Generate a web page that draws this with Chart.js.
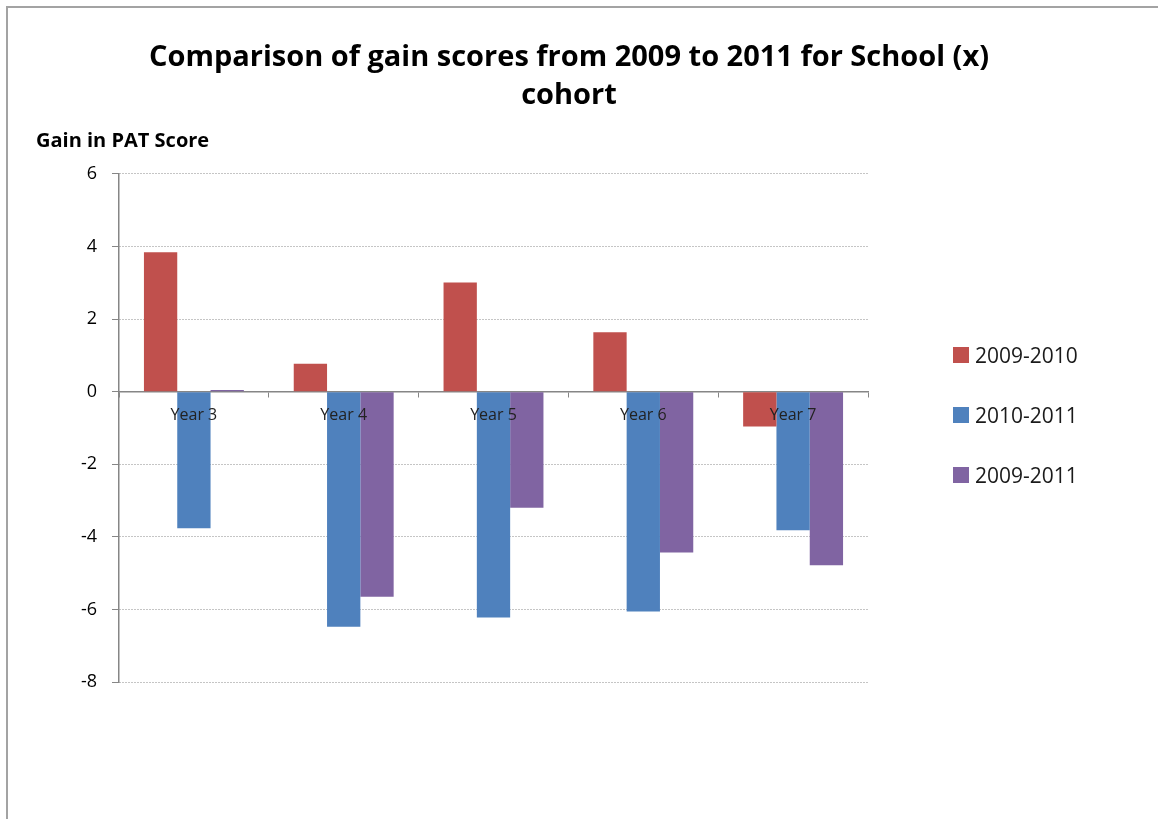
<!DOCTYPE html>
<html>
<head>
<meta charset="utf-8">
<script src="https://cdn.jsdelivr.net/npm/chart.js@4.4.1/dist/chart.umd.min.js"></script>
<style>
  body { margin: 0; background: #fff; }
  #wrap { position: relative; width: 1158px; height: 819px; }
  #frame { position: absolute; left: 6px; top: 6px; right: 0; bottom: 0;
           border-left: 2px solid #a3a3a3; border-top: 2px solid #a3a3a3; }
  #myChart { position: absolute; left: 0; top: 0; }
  #legend { position: absolute; left: 953px; top: 344px; font-family: "Open Sans", sans-serif;
            font-size: 21px; color: #1a1a1a; }
  .item { height: 22px; line-height: 22px; margin-bottom: 38px; display: flex; align-items: center; }
  .swatch { width: 16px; height: 16px; margin-right: 6px; }
</style>
</head>
<body>
<div id="wrap">
  <div id="frame"></div>
  <canvas id="myChart" width="1158" height="819"></canvas>
  <div id="legend"></div>
</div>
<script>
const categories = ["Year 3", "Year 4", "Year 5", "Year 6", "Year 7"];
const seriesNames = ["2009-2010", "2010-2011", "2009-2011"];
const gain0910 = [3.84, 0.77, 3.01, 1.64, -0.96];
const gain1011 = [-3.76, -6.48, -6.22, -6.06, -3.82];
const gain0911 = [0.05, -5.65, -3.2, -4.43, -4.78];
const colors = ["#C0504D", "#4F81BD", "#8064A2"];
const yTicks = [-8, -6, -4, -2, 0, 2, 4, 6];

const font = "'Open Sans', sans-serif";

const chart = new Chart("myChart", {
  type: "bar",
  data: {
    labels: categories,
    datasets: [gain0910, gain1011, gain0911].map((d, i) => ({
      label: seriesNames[i],
      data: d,
      backgroundColor: colors[i],
      borderWidth: 0,
      categoryPercentage: 0.667,
      barPercentage: 1
    }))
  },
  options: {
    responsive: false,
    animation: false,
    layout: { padding: { left: 36, right: 56, top: 10, bottom: 137 } },
    plugins: {
      legend: { display: false },
      tooltip: { enabled: false },
      title: {
        display: true,
        text: ["Comparison of gain scores from 2009 to 2011 for School (x)", "cohort"],
        color: "#000",
        font: { family: font, size: 29, weight: "bold", lineHeight: 1.31 },
        padding: { top: 29, bottom: 0 }
      },
      subtitle: {
        display: true,
        text: "Gain in PAT Score",
        align: "start",
        color: "#000",
        font: { family: font, size: 20, weight: "bold", lineHeight: 1.2 },
        padding: { top: 14, bottom: 21 }
      }
    },
    scales: {
      x: {
        position: { y: 0 },
        grid: { display: true, drawOnChartArea: false, drawTicks: true, tickLength: 5,
                offset: true, tickColor: "#868686" },
        border: { display: true, color: "#868686", width: 1.5 },
        ticks: { z: 1, color: "#222", font: { family: font, size: 16 }, padding: 9 }
      },
      y: {
        min: -8, max: 6,
        afterBuildTicks: s => { s.ticks = yTicks.map(v => ({ value: v })); },
        afterFit: s => { s.width = 83; },
        grid: { color: "#8a8a8a", lineWidth: 1, tickLength: 7, tickColor: "#868686" },
        border: { display: true, color: "#868686", width: 1.5, dash: [1, 2] },
        ticks: { color: "#000", font: { family: font, size: 18 }, padding: 15 }
      },
      pad: {
        type: "linear", axis: "y", position: "right",
        grid: { display: false }, border: { display: false },
        ticks: { display: false },
        afterFit: s => { s.width = 234; }
      }
    }
  }
});

const legendBox = document.getElementById("legend");
chart.data.datasets.forEach(ds => {
  const item = document.createElement("div");
  item.className = "item";
  const sw = document.createElement("span");
  sw.className = "swatch";
  sw.style.background = ds.backgroundColor;
  const txt = document.createElement("span");
  txt.textContent = ds.label;
  item.appendChild(sw);
  item.appendChild(txt);
  legendBox.appendChild(item);
});
</script>
</body>
</html>
